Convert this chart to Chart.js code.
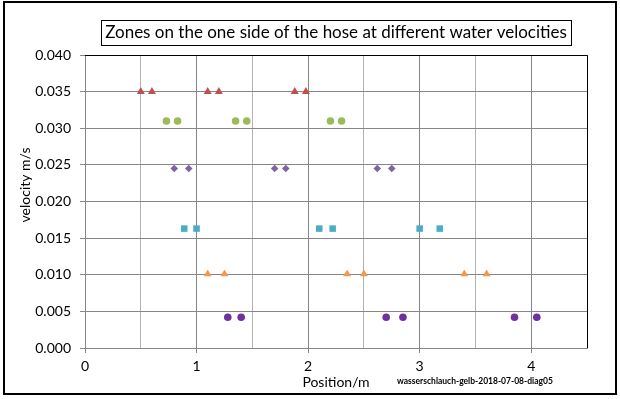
<!DOCTYPE html>
<html>
<head>
<meta charset="utf-8">
<script src="https://cdn.jsdelivr.net/npm/chart.js@4.4.1/dist/chart.umd.min.js"></script>
<style>
    html, body { margin: 0; padding: 0; background: #fff; }
    #contenedor { width: 620px; height: 399px; }
</style>
</head>
<body>
<div id="contenedor"><canvas id="myChart"></canvas></div>
<script>
// TODO textos del grafico
const titulo = "Zones on the one side of the hose at different water velocities";
const tituloX = "Position/m";
const tituloY = "velocity m/s";
const marca = "wasserschlauch-gelb-2018-07-08-diag05";

// etiquetas de los ejes
const xEtiquetas = [0, 1, 2, 3, 4];
const yEtiquetas = ["0.000", "0.005", "0.010", "0.015", "0.020", "0.025", "0.030", "0.035", "0.040"];

// zonas (posicion en m, velocidad en m/s)
const zona1X = [0.50, 0.60, 1.10, 1.20, 1.88, 1.98];
const zona1Y = [0.035, 0.035, 0.035, 0.035, 0.035, 0.035];
const zona2X = [0.73, 0.83, 1.35, 1.45, 2.20, 2.30];
const zona2Y = [0.031, 0.031, 0.031, 0.031, 0.031, 0.031];
const zona3X = [0.80, 0.93, 1.70, 1.80, 2.62, 2.75];
const zona3Y = [0.0245, 0.0245, 0.0245, 0.0245, 0.0245, 0.0245];
const zona4X = [0.89, 1.00, 2.10, 2.22, 3.00, 3.18];
const zona4Y = [0.0163, 0.0163, 0.0163, 0.0163, 0.0163, 0.0163];
const zona5X = [1.10, 1.25, 2.35, 2.50, 3.40, 3.60];
const zona5Y = [0.0101, 0.0101, 0.0101, 0.0101, 0.0101, 0.0101];
const zona6X = [1.28, 1.40, 2.70, 2.85, 3.85, 4.05];
const zona6Y = [0.0042, 0.0042, 0.0042, 0.0042, 0.0042, 0.0042];

const fuente = "Lato, 'Open Sans', sans-serif";

const puntos = (xs, ys) => xs.map((x, i) => ({x: x, y: ys[i]}));

//! datasets
const series = [
    {label: "zona 1", data: puntos(zona1X, zona1Y), estilo: "triangle", color: "#C0504D", radio: 4.6},
    {label: "zona 2", data: puntos(zona2X, zona2Y), estilo: "circle", color: "#9BBB59", radio: 3.8},
    {label: "zona 3", data: puntos(zona3X, zona3Y), estilo: "rectRot", color: "#8064A2", radio: 3.8},
    {label: "zona 4", data: puntos(zona4X, zona4Y), estilo: "rect", color: "#4BACC6", radio: 4.6},
    {label: "zona 5", data: puntos(zona5X, zona5Y), estilo: "triangle", color: "#F79646", radio: 4.6},
    {label: "zona 6", data: puntos(zona6X, zona6Y), estilo: "circle", color: "#7030A0", radio: 3.8},
];

//* marcos, caja del titulo y marca de agua
const marcos = {
    id: "marcos",
    afterDraw(chart) {
        const ctx = chart.ctx;
        const area = chart.chartArea;
        ctx.save();
        // borde exterior
        ctx.strokeStyle = "#000";
        ctx.lineWidth = 2;
        ctx.strokeRect(4, 2, 612, 392);
        // borde arriba y derecha del area
        ctx.lineWidth = 1;
        ctx.beginPath();
        ctx.moveTo(area.left, Math.round(area.top) + 0.5);
        ctx.lineTo(Math.round(area.right) + 0.5, Math.round(area.top) + 0.5);
        ctx.lineTo(Math.round(area.right) + 0.5, area.bottom);
        ctx.stroke();
        // caja del titulo
        const tb = chart.titleBlock;
        ctx.font = tb.options.font.size + "px " + fuente;
        const ancho = ctx.measureText(titulo).width;
        const cx = (area.left + area.right) / 2;
        ctx.strokeRect(Math.round(cx - ancho / 2 - 4) + 0.5, 20.5, Math.round(ancho + 8), 25);
        // titulo eje y
        ctx.fillStyle = "#000";
        ctx.font = "14px " + fuente;
        ctx.translate(25, 185);
        ctx.rotate(-Math.PI / 2);
        ctx.textAlign = "center";
        ctx.textBaseline = "middle";
        ctx.fillText(tituloY, 0, 0);
        ctx.setTransform(1, 0, 0, 1, 0, 0);
        // marca de agua
        ctx.font = "bold 8.5px " + fuente;
        ctx.textAlign = "left";
        ctx.fillText(marca, 397, 381);
        ctx.restore();
    }
};

let myChart = null;

function prepararGrafico() {
    const chartDOM = document.getElementById("myChart");
    myChart = new Chart(chartDOM, {
        type: "scatter",
        data: {
            datasets: series.map((s) => ({
                label: s.label,
                data: s.data,
                pointStyle: s.estilo,
                pointRadius: s.radio,
                pointHoverRadius: s.radio,
                backgroundColor: s.color,
                borderColor: s.color,
                borderWidth: 0,
            }))
        },
        options: {
            responsive: true,
            maintainAspectRatio: false,
            animation: false,
            devicePixelRatio: 1,
            layout: {padding: {left: 4, right: 33, top: 0, bottom: 4}},
            plugins: {
                legend: {display: false},
                tooltip: {enabled: false},
                title: {
                    display: true,
                    text: titulo,
                    fullSize: false,
                    color: "#000",
                    font: {family: fuente, size: 17, weight: "normal", lineHeight: 1.2},
                    padding: {top: 22.3, bottom: 12.3},
                }
            },
            scales: {
                x: {
                    type: "linear",
                    min: 0,
                    max: 4.5,
                    afterFit: (scale) => { scale.height = 47; },
                    ticks: {
                        stepSize: 0.5,
                        autoSkip: false,
                        maxRotation: 0,
                        color: "#000",
                        padding: 5,
                        font: {family: fuente, size: 14},
                        callback: (v) => xEtiquetas.includes(v) ? String(v) : "",
                    },
                    grid: {
                        color: (c) => Number.isInteger(c.tick.value) ? "#868686" : "#B4B4B4",
                        tickColor: (c) => Number.isInteger(c.tick.value) ? "#868686" : "rgba(0,0,0,0)",
                        tickLength: 5,
                    },
                    border: {color: "#868686"},
                    title: {
                        display: true,
                        text: tituloX,
                        color: "#000",
                        font: {family: fuente, size: 14},
                        padding: {top: 0, bottom: 4},
                    }
                },
                y: {
                    type: "linear",
                    min: 0,
                    max: 0.04,
                    afterFit: (scale) => { scale.width = 81; },
                    ticks: {
                        stepSize: 0.005,
                        color: "#000",
                        padding: 9,
                        font: {family: fuente, size: 14},
                        callback: (v, i) => yEtiquetas[i],
                    },
                    grid: {color: "#868686", tickLength: 5},
                    border: {color: "#868686"},
                }
            }
        },
        plugins: [marcos]
    });
}

prepararGrafico();
</script>
</body>
</html>
